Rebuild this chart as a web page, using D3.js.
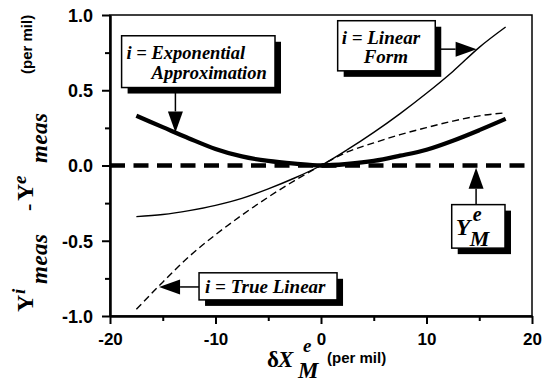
<!DOCTYPE html>
<html>
<head>
<meta charset="utf-8">
<script src="https://d3js.org/d3.v7.min.js"></script>
<style>
    body { margin: 0; background: #fff; }
    #chart { width: 552px; height: 389px; }
    .axis path, .axis line { stroke: #000; }
    .axis text { font-family: "Liberation Sans", Arial, sans-serif; font-weight: bold; font-size: 17px; fill: #000; }
    .serif { font-family: "Liberation Serif", "Times New Roman", serif; font-weight: bold; }
    .sans { font-family: "Liberation Sans", Arial, sans-serif; font-weight: bold; }
</style>
</head>
<body>
<div id="chart"></div>
<script>

// delta X values (per mil) where the curves were read
let deltaX = [-17.5, -15, -12.5, -10, -7.5, -5, -2.5, 0, 2.5, 5, 7.5, 10, 12.5, 15, 17.5];

// Y(i) - Y(e) for each form of i (per mil)
let linearForm = [-0.34, -0.326, -0.30, -0.265, -0.218, -0.155, -0.083, 0, 0.105, 0.22, 0.345, 0.48, 0.625, 0.785, 0.92];
let trueLinear = [-0.955, -0.775, -0.605, -0.46, -0.33, -0.21, -0.10, 0, 0.09, 0.15, 0.205, 0.252, 0.295, 0.33, 0.35];
let expApprox = [0.33, 0.255, 0.18, 0.11, 0.06, 0.03, 0.012, 0, 0.01, 0.03, 0.065, 0.105, 0.165, 0.235, 0.31];

// reference line Y(e)M
let refX = [-20, 20];
let refY = [0, 0];

// tick labels
let xTicks = [-20, -10, 0, 10, 20];
let xTickLabels = ["-20", "-10", "0", "10", "20"];
let xMinorTicks = [-15, -5, 5, 15];
let yTicks = [-1, -0.5, 0, 0.5, 1];
let yTickLabels = ["-1.0", "-0.5", "0.0", "0.5", "1.0"];
let yMinorTicks = [-0.75, -0.25, 0.25, 0.75];


class deltaChart {
    constructor(parentElement){
        this.parentElement = parentElement;
        this.initVis()
    }

    initVis(){
        let vis = this;

        //Set margin
        vis.margin = {top: 15, right: 20, bottom: 73, left: 110};
        vis.width = 552 - vis.margin.left - vis.margin.right;
        vis.height = 389 - vis.margin.top - vis.margin.bottom;

        vis.root = d3.select("#" + vis.parentElement).append("svg")
            .attr("width", 552)
            .attr("height", 389);

        vis.svg = vis.root.append("g")
            .attr("transform", "translate(" + vis.margin.left + "," + vis.margin.top + ")");

        // Scales
        vis.x = d3.scaleLinear().domain([-20, 20]).range([0, vis.width]);
        vis.y = d3.scaleLinear().domain([-1, 1]).range([vis.height, 0]);

        vis.wrangleData()
    }

    wrangleData(){
        let vis = this;

        vis.series = [
            {values: expApprox, width: 4.3, dash: null},
            {values: linearForm, width: 1.4, dash: null},
            {values: trueLinear, width: 1.4, dash: "7,4"}
        ];

        vis.updateVis()
    }

    updateVis(){
        let vis = this;

        // frame (top / right)
        vis.svg.append("rect")
            .attr("width", vis.width)
            .attr("height", vis.height)
            .attr("fill", "none")
            .attr("stroke", "#000")
            .attr("stroke-width", 1.5);

        // minor ticks
        vis.svg.append("g")
            .attr("class", "axis")
            .attr("transform", "translate(0," + vis.height + ")")
            .call(d3.axisBottom(vis.x).tickValues(xMinorTicks).tickFormat("").tickSize(5).tickSizeOuter(0));
        vis.svg.append("g")
            .attr("class", "axis")
            .call(d3.axisLeft(vis.y).tickValues(yMinorTicks).tickFormat("").tickSize(5).tickSizeOuter(0));

        // major axes
        vis.xAxis = d3.axisBottom(vis.x)
            .tickValues(xTicks)
            .tickFormat((d, i) => xTickLabels[i])
            .tickSize(8)
            .tickSizeOuter(0);
        vis.yAxis = d3.axisLeft(vis.y)
            .tickValues(yTicks)
            .tickFormat((d, i) => yTickLabels[i])
            .tickSize(8)
            .tickSizeOuter(0);

        let gx = vis.svg.append("g")
            .attr("class", "axis")
            .attr("transform", "translate(0," + vis.height + ")")
            .call(vis.xAxis);
        gx.selectAll("text").attr("y", 29).attr("dy", null);

        let gy = vis.svg.append("g")
            .attr("class", "axis")
            .call(vis.yAxis);
        gy.selectAll("text")
            .attr("x", -17)
            .attr("dy", "0.36em")
            .style("font-size", "18px");

        vis.svg.selectAll(".axis path, .axis line").attr("stroke-width", 2);

        // reference line
        vis.svg.append("line")
            .attr("x1", vis.x(refX[0]))
            .attr("x2", vis.x(refX[1]))
            .attr("y1", vis.y(refY[0]))
            .attr("y2", vis.y(refY[1]))
            .attr("stroke", "#000")
            .attr("stroke-width", 4.5)
            .attr("stroke-dasharray", "15,8.5");

        // curves
        let line = d3.line()
            .x((d, i) => vis.x(deltaX[i]))
            .y(d => vis.y(d))
            .curve(d3.curveMonotoneX);

        vis.svg.selectAll(".curve")
            .data(vis.series)
            .enter()
            .append("path")
            .attr("class", "curve")
            .attr("d", d => line(d.values))
            .attr("fill", "none")
            .attr("stroke", "#000")
            .attr("stroke-width", d => d.width)
            .attr("stroke-dasharray", d => d.dash);

        vis.drawNotes();
        vis.drawLabels();
    }

    drawNotes(){
        let vis = this;

        // boxes: [x0, y0, x1, y1] in data units, tip on the curve
        let notes = [
            {box: [-18.9, 0.862, -4.36, 0.518], tip: [-13.8, 0.22], side: "bottom",
                text: [{t: "i = Exponential", dx: 5, dy: 23, size: 18.5}, {t: "Approximation", dx: 30, dy: 43, size: 18.5}]},
            {box: [1.58, 0.962, 10.83, 0.629], tip: [14.75, 0.773], side: "right",
                text: [{t: "i = Linear", dx: 4, dy: 23, size: 19}, {t: "Form", dx: 26, dy: 42, size: 19}]},
            {box: [-11.56, -0.713, 1.52, -0.893], tip: [-15.35, -0.807], side: "left",
                text: [{t: "i = True Linear", dx: 6, dy: 20, size: 19}]},
            {box: [12.39, -0.26, 17.44, -0.549], tip: [14.7, -0.015], side: "top",
                text: [{t: "Y", dx: 4, dy: 30, size: 24}, {t: "e", dx: 21, dy: 16, size: 20}, {t: "M", dx: 18, dy: 41, size: 22}]}
        ];

        notes.forEach(function(n){
            let x0 = vis.x(n.box[0]), y0 = vis.y(n.box[1]);
            let x1 = vis.x(n.box[2]), y1 = vis.y(n.box[3]);
            let tx = vis.x(n.tip[0]), ty = vis.y(n.tip[1]);

            //shadow + box
            vis.svg.append("rect")
                .attr("x", x0 + 6).attr("y", y0 + 6)
                .attr("width", x1 - x0).attr("height", y1 - y0)
                .attr("fill", "#000");
            vis.svg.append("rect")
                .attr("x", x0).attr("y", y0)
                .attr("width", x1 - x0).attr("height", y1 - y0)
                .attr("fill", "#fff")
                .attr("stroke", "#000")
                .attr("stroke-width", 1.5);

            n.text.forEach(function(s){
                vis.svg.append("text")
                    .attr("class", "serif")
                    .attr("x", x0 + s.dx)
                    .attr("y", y0 + s.dy)
                    .attr("font-style", "italic")
                    .attr("font-size", s.size + "px")
                    .text(s.t);
            });

            // arrow stem start
            let sx, sy;
            if (n.side === "bottom") { sx = tx; sy = y1; }
            else if (n.side === "top") { sx = tx; sy = y0; }
            else if (n.side === "right") { sx = x1; sy = ty; }
            else { sx = x0; sy = ty; }

            let len = Math.hypot(tx - sx, ty - sy);
            let ux = (tx - sx) / len, uy = (ty - sy) / len;
            let hl = 21, hw = 7.5;
            let bx = tx - ux * hl, by = ty - uy * hl;

            vis.svg.append("line")
                .attr("x1", sx).attr("y1", sy)
                .attr("x2", bx).attr("y2", by)
                .attr("stroke", "#000")
                .attr("stroke-width", 1.5);

            vis.svg.append("path")
                .attr("d", "M" + tx + "," + ty +
                    "L" + (bx - uy * hw) + "," + (by + ux * hw) +
                    "L" + (bx + uy * hw) + "," + (by - ux * hw) + "Z")
                .attr("fill", "#000");
        });
    }

    drawLabels(){
        let vis = this;

        // x axis title
        let xt = vis.root.append("g");
        let xParts = [
            {t: "\u03B4", x: 267, y: 367, size: 23, cls: "serif", italic: false, weight: "normal"},
            {t: "X", x: 278, y: 367, size: 23, cls: "serif", italic: true},
            {t: "e", x: 303, y: 352, size: 19, cls: "serif", italic: true},
            {t: "M", x: 298, y: 378, size: 23, cls: "serif", italic: true},
            {t: "(per mil)", x: 327, y: 363, size: 15, cls: "sans", italic: false}
        ];
        xParts.forEach(function(p){
            xt.append("text")
                .attr("class", p.cls)
                .attr("x", p.x)
                .attr("y", p.y)
                .attr("font-size", p.size + "px")
                .attr("font-style", p.italic ? "italic" : "normal")
                .attr("font-weight", p.weight || "bold")
                .text(p.t);
        });

        // y axis title, rotated; x = -pageY, y = pageX
        let yt = vis.root.append("g").attr("transform", "rotate(-90)");
        let yParts = [
            {t: "Y", at: 312, base: 33, size: 24, cls: "serif", italic: false},
            {t: "i", at: 294, base: 25, size: 19, cls: "serif", italic: true},
            {t: "meas", at: 284, base: 47, size: 23, cls: "serif", italic: true, sp: 0.5},
            {t: "-", at: 211, base: 35, size: 22, cls: "serif", italic: false},
            {t: "Y", at: 201, base: 33, size: 24, cls: "serif", italic: false},
            {t: "e", at: 184, base: 26, size: 19, cls: "serif", italic: true},
            {t: "meas", at: 163, base: 47, size: 23, cls: "serif", italic: true, sp: 0.5},
            {t: "(per mil)", at: 74, base: 32, size: 15, cls: "sans", italic: false}
        ];
        yParts.forEach(function(p){
            yt.append("text")
                .attr("class", p.cls)
                .attr("x", -p.at)
                .attr("y", p.base)
                .attr("font-size", p.size + "px")
                .attr("font-style", p.italic ? "italic" : "normal")
                .attr("letter-spacing", p.sp || 0)
                .text(p.t);
        });
    }
}

new deltaChart("chart");
</script>
</body>
</html>
